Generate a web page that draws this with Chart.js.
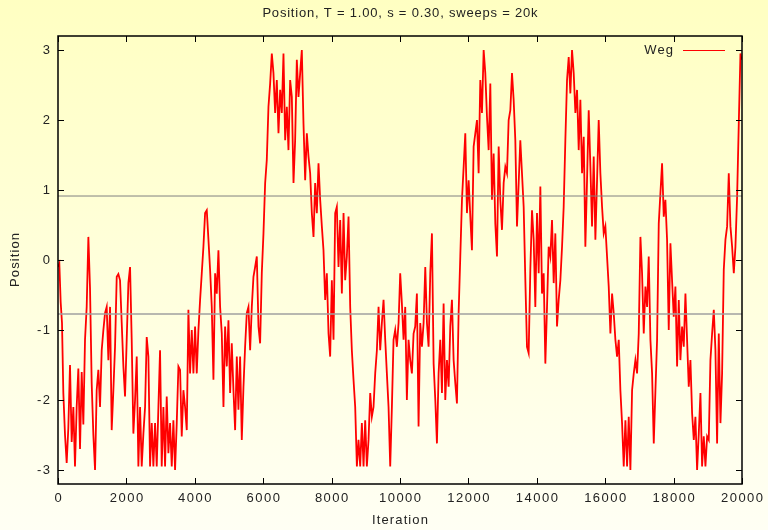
<!DOCTYPE html>
<html>
<head>
<meta charset="utf-8">
<title>Position trace</title>
<script src="https://cdn.jsdelivr.net/npm/chart.js@4/dist/chart.umd.min.js"></script>
<style>
    html, body { margin: 0; padding: 0; }
    body { width: 768px; height: 530px; overflow: hidden; }
    canvas { display: block; }
</style>
</head>
<body>
<canvas id="chart" width="768" height="530"></canvas>
<script>
// Data (iteration, position)
const iterations = [
    0, 39, 78, 117, 156, 205, 254, 302, 351, 400, 449, 497, 546, 595, 644, 693, 741, 790, 839, 888,
    936, 985, 1034, 1083, 1131, 1180, 1229, 1278, 1327, 1375, 1424, 1473, 1522, 1570, 1619, 1668, 1717, 1765, 1814, 1863,
    1912, 1960, 2009, 2058, 2107, 2155, 2204, 2253, 2302, 2350, 2399, 2448, 2497, 2546, 2594, 2643, 2692, 2741, 2789, 2838,
    2887, 2936, 2984, 3033, 3082, 3131, 3179, 3228, 3277, 3326, 3374, 3423, 3472, 3521,
    3570, 3618, 3667, 3716, 3765, 3813, 3862, 3911, 3960, 4008, 4057, 4106, 4155, 4204, 4252, 4301, 4350, 4399, 4447, 4496,
    4545, 4594, 4642, 4691, 4740, 4789, 4838, 4886, 4935, 4984, 5033, 5081, 5130, 5179, 5228, 5276, 5325, 5374, 5423, 5471,
    5520, 5569, 5618, 5667, 5715, 5764, 5813, 5862, 5910, 5959, 6008, 6057, 6105, 6154, 6203, 6252, 6300, 6349, 6398, 6447,
    6496, 6544, 6593, 6642, 6691, 6739, 6788, 6837, 6886, 6934, 6983, 7032,
    7081, 7129, 7178, 7227, 7276, 7324, 7373, 7422, 7471, 7519, 7568, 7617, 7666, 7715, 7763, 7812, 7861, 7910, 7958, 8007,
    8056, 8105, 8153, 8202, 8251, 8300, 8349, 8397, 8446, 8495, 8544, 8592, 8641, 8690, 8739, 8787, 8836, 8885, 8934, 8982,
    9031, 9080, 9129, 9177, 9226, 9275, 9324, 9373, 9421, 9470, 9519, 9568, 9616, 9665, 9714, 9763, 9811, 9860, 9909, 9958,
    10006, 10055, 10104, 10153, 10201, 10250, 10299, 10348, 10397, 10445, 10494, 10543, 10592,
    10641, 10690, 10739, 10788, 10836, 10885, 10934, 10983, 11032, 11080, 11129, 11178, 11227, 11275, 11324, 11373, 11422, 11470, 11519, 11568,
    11617, 11665, 11714, 11763, 11812, 11861, 11909, 11958, 12007, 12056, 12104, 12153, 12202, 12251, 12299, 12348, 12397, 12446, 12494, 12543,
    12592, 12641, 12689, 12738, 12787, 12836, 12885, 12933, 12982, 13031, 13080, 13128, 13177, 13226, 13275, 13323, 13372, 13421, 13470, 13518,
    13567, 13616, 13665, 13713, 13762, 13811, 13860, 13909, 13957, 14006, 14055, 14104,
    14152, 14201, 14250, 14299, 14347, 14396, 14445, 14494, 14542, 14591, 14640, 14689, 14738, 14786, 14835, 14884, 14933, 14981, 15030, 15079,
    15128, 15177, 15225, 15274, 15323, 15372, 15420, 15469, 15518, 15567, 15615, 15664, 15713, 15762, 15810, 15859, 15908, 15957, 16005, 16054,
    16103, 16152, 16201, 16249, 16298, 16347, 16396, 16444, 16493, 16542, 16591, 16640, 16688, 16737, 16786, 16835, 16883, 16932, 16981, 17030,
    17078, 17127, 17176, 17225, 17273, 17322, 17371, 17420, 17469, 17517, 17566,
    17614, 17663, 17712, 17760, 17809, 17858, 17907, 17955, 18004, 18053, 18102, 18151, 18199, 18248, 18297, 18346, 18394, 18443, 18492, 18541,
    18590, 18638, 18687, 18736, 18785, 18833, 18882, 18931, 18980, 19028, 19077, 19126, 19175, 19223, 19272, 19321, 19370, 19418, 19467, 19516,
    19565, 19613, 19662, 19711, 19760, 19808, 19857, 19906, 19955, 19984
];
const positions = [
    -0.1, -0.05, -0.6, -0.9, -1.9, -2.5, -2.9, -2.4, -1.5, -2.6, -2.1, -2.95, -2.1, -1.55, -2.7, -1.6, -2.35, -1.14, -0.67, 0.33,
    -0.4, -1.76, -2.5, -3.0, -1.86, -1.57, -2.1, -1.29, -1.0, -0.76, -0.67, -1.43, -0.67, -2.43, -1.86, -1.24, -0.24, -0.2, -0.29, -0.9,
    -1.52, -1.95, -1.14, -0.33, -0.1, -1.14, -2.48, -2.0, -1.38, -2.95, -2.1, -2.95, -2.48, -2.1, -1.1, -1.38, -2.95, -2.33, -2.95, -2.33,
    -2.95, -2.1, -1.29, -2.95, -2.1, -2.95, -1.95, -2.76, -2.33, -2.95, -2.29, -3.0, -2.33, -1.52,
    -1.57, -2.52, -1.86, -2.1, -2.43, -0.71, -1.62, -1.0, -1.62, -0.95, -1.62, -1.0, -0.57, -0.19, 0.19, 0.67, 0.71, 0.29, -0.14, -0.67,
    -1.71, -0.19, -0.48, 0.14, -0.67, -1.05, -2.1, -0.95, -1.52, -0.86, -1.9, -1.19, -1.86, -2.43, -1.38, -2.14, -1.38, -2.57, -1.81, -1.24,
    -0.76, -0.67, -1.29, -0.67, -0.24, -0.1, 0.05, -0.95, -1.19, -0.19, 0.38, 1.1, 1.43, 2.19, 2.52, 2.95, 2.67, 2.1, 2.57, 1.81,
    2.43, 2.1, 2.95, 1.71, 2.19, 1.57, 2.57, 2.33, 1.1, 1.71, 2.86, 2.33,
    2.67, 3.0, 1.95, 1.14, 1.81, 1.48, 1.24, 0.67, 0.33, 1.1, 0.67, 1.38, 0.86, 0.48, 0.14, -0.57, -0.19, -1.05, -1.38, -0.29,
    -1.14, 0.67, 0.76, -0.1, 0.57, -0.48, 0.67, -0.29, 0.05, 0.62, -0.67, -1.29, -1.71, -2.1, -2.95, -2.57, -2.95, -2.33, -2.95, -2.29,
    -2.95, -2.57, -1.9, -2.24, -2.1, -1.62, -1.29, -0.67, -1.29, -0.9, -0.57, -1.14, -1.62, -2.1, -2.95, -2.1, -1.14, -1.0, -1.24, -0.9,
    -0.19, -0.62, -1.14, -0.67, -2.0, -1.14, -1.43, -1.62, -1.05, -0.95, -0.48, -2.38, -0.9,
    -1.24, -0.9, -0.1, -0.9, -1.24, -0.19, 0.38, -1.48, -2.0, -2.62, -1.62, -1.14, -1.9, -0.62, -2.0, -1.43, -1.81, -0.95, -0.57, -1.43,
    -1.76, -2.05, -0.76, 0.05, 0.86, 1.33, 1.81, 0.67, 1.14, 0.62, 0.14, 1.62, 1.81, 2.0, 1.24, 2.57, 2.1, 3.0, 2.67, 2.05,
    1.57, 2.52, 0.86, 1.52, 0.52, 0.05, 1.62, 0.86, 0.43, 1.1, 1.33, 1.24, 2.0, 2.14, 2.67, 2.29, 1.71, 0.48, 1.1, 1.71,
    1.24, 0.76, -0.29, -1.24, -1.33, -0.14, 0.71, 0.29, -0.67, 0.67, -0.19, 1.05,
    -0.48, -0.19, -1.48, -0.67, 0.19, 0.05, 0.57, -0.33, 0.38, -0.95, -0.57, -0.29, 0.19, 0.76, 1.71, 2.57, 2.9, 2.38, 3.0, 2.67,
    2.1, 2.43, 1.57, 2.29, 1.24, 1.76, 0.19, 1.14, 2.14, 1.33, 0.48, 1.48, 0.29, 1.14, 2.0, 1.24, 0.76, 0.38, 0.48, 0.05,
    -0.38, -1.05, -0.48, -0.76, -1.14, -1.38, -1.14, -1.86, -2.33, -2.95, -2.29, -2.95, -2.24, -3.0, -1.86, -1.62, -1.43, -1.62, -1.05, 0.33,
    -0.19, -1.05, -0.38, -0.67, 0.05, -1.14, -1.62, -2.62, -1.86, -1.14, 0.52,
    0.95, 1.38, 0.62, 0.86, 0.29, -1.0, 0.24, -0.29, -0.81, -0.38, -1.52, -0.57, -1.43, -0.95, -1.24, -0.48, -1.14, -1.81, -1.43, -2.19,
    -2.57, -2.24, -3.0, -2.48, -1.9, -2.95, -2.52, -2.95, -2.52, -2.57, -1.43, -1.05, -0.71, -1.29, -2.62, -1.05, -2.33, -1.62, -0.14, 0.29,
    0.48, 1.24, 0.48, 0.19, -0.19, 0.19, 0.9, 1.95, 2.95, 2.86
];

// Two horizontal reference levels
const levelUpper = 0.914;
const levelLower = -0.771;

const xTicks = [0, 2000, 4000, 6000, 8000, 10000, 12000, 14000, 16000, 18000, 20000];
const yTicks = [-3, -2, -1, 0, 1, 2, 3];

const titleText = 'Position, T = 1.00, s = 0.30, sweeps = 20k';
const xTitle = 'Iteration';
const yTitle = 'Position';
const seriesName = 'Weg';

const FONT = '"Liberation Sans", Arial, Helvetica, sans-serif';
const TEXT_COLOR = '#222';

const tracePoints = iterations.map((it, i) => ({ x: it, y: positions[i] }));

// gnuplot-ish text is a bit wider than plain Arial, so add some letter spacing
function drawText(ctx, text, x, y, align, spacing) {
    ctx.letterSpacing = spacing + 'px';
    ctx.textAlign = align;
    // trailing spacing shifts centred/right text, compensate for it
    let shift = 0;
    if (align === 'center') shift = spacing / 2;
    if (align === 'right') shift = spacing;
    ctx.fillText(text, x + shift, y);
    ctx.letterSpacing = '0px';
}

// Gradient page background, frame, inward ticks, labels and legend
const gnuplotDecor = {
    id: 'gnuplotDecor',
    beforeDraw(chart) {
        const { ctx, width, height } = chart;
        const grad = ctx.createLinearGradient(0, 0, 0, height);
        grad.addColorStop(0, '#ffffc2');
        grad.addColorStop(1, '#fffff4');
        ctx.save();
        ctx.fillStyle = grad;
        ctx.fillRect(0, 0, width, height);
        ctx.restore();
    },
    afterDraw(chart) {
        const { ctx, chartArea: a } = chart;
        const xs = chart.scales.x;
        const ys = chart.scales.y;
        ctx.save();

        // inward ticks on all four sides
        ctx.strokeStyle = '#000';
        ctx.lineWidth = 1;
        ctx.beginPath();
        xTicks.forEach(v => {
            const px = Math.round(xs.getPixelForValue(v)) + 0.5;
            ctx.moveTo(px, a.bottom); ctx.lineTo(px, a.bottom - 6);
            ctx.moveTo(px, a.top); ctx.lineTo(px, a.top + 6);
        });
        yTicks.forEach(v => {
            const py = Math.round(ys.getPixelForValue(v)) + 0.5;
            ctx.moveTo(a.left, py); ctx.lineTo(a.left + 6, py);
            ctx.moveTo(a.right, py); ctx.lineTo(a.right - 6, py);
        });
        ctx.stroke();

        // frame
        ctx.lineWidth = 1.5;
        ctx.strokeRect(a.left, a.top, a.right - a.left, a.bottom - a.top);

        ctx.fillStyle = TEXT_COLOR;
        ctx.font = '13px ' + FONT;
        ctx.textBaseline = 'middle';

        // tick labels
        xTicks.forEach(v => {
            drawText(ctx, String(v), xs.getPixelForValue(v), a.bottom + 14, 'center', 1.5);
        });
        yTicks.forEach(v => {
            drawText(ctx, String(v), a.left - 8, ys.getPixelForValue(v), 'right', 1.5);
        });

        // titles
        const midX = (a.left + a.right) / 2;
        drawText(ctx, titleText, midX, 13, 'center', 0.8);
        drawText(ctx, xTitle, midX, 520, 'center', 1.1);
        ctx.save();
        ctx.translate(15, (a.top + a.bottom) / 2);
        ctx.rotate(-Math.PI / 2);
        drawText(ctx, yTitle, 0, 0, 'center', 1.1);
        ctx.restore();

        // legend (top right, inside the plot)
        drawText(ctx, seriesName, 673, 50, 'right', 1.1);
        ctx.strokeStyle = '#ff0000';
        ctx.lineWidth = 1.2;
        ctx.beginPath();
        ctx.moveTo(683, 50.5);
        ctx.lineTo(725, 50.5);
        ctx.stroke();

        ctx.restore();
    }
};

new Chart(document.getElementById('chart').getContext('2d'), {
    type: 'line',
    data: {
        datasets: [
            {
                label: 'upper',
                data: [{ x: 0, y: levelUpper }, { x: 20000, y: levelUpper }],
                borderColor: '#808080',
                borderWidth: 1,
                pointRadius: 0
            },
            {
                label: 'lower',
                data: [{ x: 0, y: levelLower }, { x: 20000, y: levelLower }],
                borderColor: '#a0a0a0',
                borderWidth: 1.5,
                pointRadius: 0
            },
            {
                label: seriesName,
                data: tracePoints,
                borderColor: '#ff0000',
                borderWidth: 1.8,
                pointRadius: 0,
                tension: 0
            }
        ]
    },
    options: {
        responsive: false,
        animation: false,
        events: [],
        layout: { padding: { left: 0, right: 26, top: 36, bottom: 0 } },
        plugins: {
            legend: { display: false },
            tooltip: { enabled: false },
            title: { display: false }
        },
        scales: {
            x: {
                type: 'linear',
                min: 0,
                max: 20000,
                afterBuildTicks: s => { s.ticks = xTicks.map(v => ({ value: v })); },
                afterFit: s => { s.height = 46; },
                grid: { display: false },
                border: { display: false },
                ticks: { display: false }
            },
            y: {
                min: -3.2,
                max: 3.2,
                afterBuildTicks: s => { s.ticks = yTicks.map(v => ({ value: v })); },
                afterFit: s => { s.width = 58; },
                grid: { display: false },
                border: { display: false },
                ticks: { display: false }
            }
        }
    },
    plugins: [gnuplotDecor]
});
</script>
</body>
</html>
